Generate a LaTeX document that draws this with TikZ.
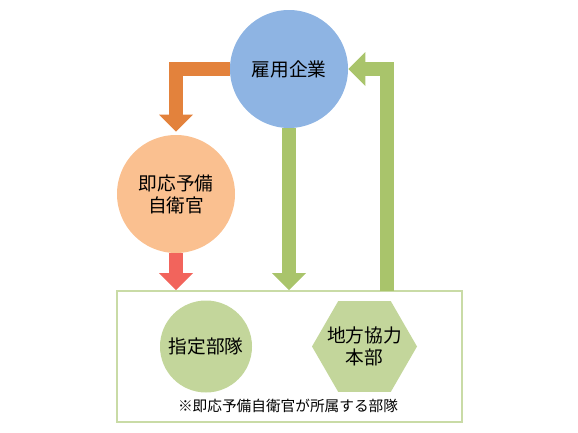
\documentclass[tikz,border=0pt]{standalone}
\usepackage{fontspec}
\setmainfont{Noto Sans CJK JP}
\usepackage{tikz}
\usetikzlibrary{arrows.meta,shapes.geometric}
\usepackage[dvipsnames,svgnames,x11names]{xcolor}

\definecolor{firmblue}{HTML}{8EB4E3}
\definecolor{reserveorange}{HTML}{FAC090}
\definecolor{arroworange}{HTML}{E3823C}
\definecolor{arrowred}{HTML}{F2645C}
\definecolor{arrowgreen}{HTML}{A9C46B}
\definecolor{unitgreen}{HTML}{C3D69B}
\definecolor{boxgreen}{HTML}{C9DBA6}

\begin{document}
\begin{tikzpicture}[
    x=0.75pt,
    y=-0.75pt,
    every node/.style={
        font=\fontsize{14}{16.5}\selectfont,
        align=center
    },
    bigcircle/.style={
        circle,
        minimum size=88.5pt,
        inner sep=0pt
    },
    smallcircle/.style={
        circle,
        minimum size=69pt,
        inner sep=0pt,
        fill=unitgreen
    },
    hexbox/.style={
        regular polygon,
        regular polygon sides=6,
        minimum size=78.75pt,
        inner sep=0pt,
        fill=unitgreen
    },
    blockarrow/.style={
        line width=10pt,
        -{Triangle[width=25.5pt,length=12.75pt,line width=0pt]}
    }
]

    \useasboundingbox (0,0) rectangle (578,432);

    % Empresa
    \node[bigcircle, fill=firmblue] (firm) at (289,69) {雇用企業};

    % Reservista
    \node[bigcircle, fill=reserveorange] (reserve) at (176,194) {即応予備\\自衛官};

    % Marc
    \node[
        draw=boxgreen,
        line width=1.5pt,
        minimum width=258.75pt,
        minimum height=98.25pt,
        inner sep=0pt
    ] (group) at (289.5,356.5) {};

    % Unitats
    \node[smallcircle] (unit) at (206,346.5) {指定部隊};

    \node[
        hexbox,
        label={[align=center]center:地方協力\\本部}
    ] (pco) at (364.5,346.5) {};

    % Nota
    \node[font=\fontsize{11}{13}\selectfont] (note) at (288,406) {※即応予備自衛官が所属する部隊};

    % Fletxes
    \coordinate (upstart) at (387,291);

    \draw[
        blockarrow,
        arroworange,
        shorten >=2.25pt
    ] (firm.west) -| (reserve.north);

    \draw[
        blockarrow,
        arrowred
    ] (reserve.south) -- (reserve.south |- group.north);

    \draw[
        blockarrow,
        arrowgreen
    ] (firm.south) -- (firm.south |- group.north);

    \draw[
        blockarrow,
        arrowgreen
    ] (upstart) |- (firm.east);

\end{tikzpicture}
\end{document}
